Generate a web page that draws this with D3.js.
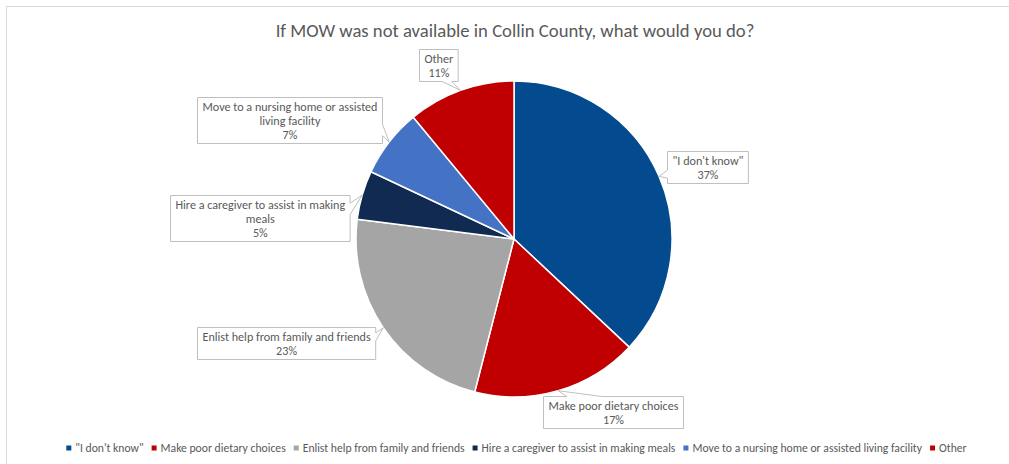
<!DOCTYPE html>
<html><head><meta charset="utf-8">
<script src="https://cdn.jsdelivr.net/npm/d3@7"></script>
<style>body{margin:0;background:#fff;} svg{display:block;}</style>
</head><body>
<svg id="chart" width="1009" height="464"></svg>
<script>
// ---- data ----
const categories = ['"I don\'t know"', "Make poor dietary choices", "Enlist help from family and friends", "Hire a caregiver to assist in making meals", "Move to a nursing home or assisted living facility", "Other"];
const values = [37, 17, 23, 5, 7, 11];
const colors = ["#034A8E", "#C00000", "#A5A5A5", "#112A52", "#4472C4", "#C00000"];
const titleText = "If MOW was not available in Collin County, what would you do?";

// ---- layout ----
const W = 1009, H = 464, cx = 514, cy = 239, R = 158;
const FONT = "Carlito, Calibri, Lato, 'Liberation Sans', sans-serif";
const TEXT = "#595959";
const calloutOffsets = [[48, -9], [55, 21], [-97, 15], [-102, 23], [-100, -22], [-22, -25]];

const svg = d3.select("#chart");
svg.append("rect").attr("x", 0).attr("y", 0).attr("width", W).attr("height", H).attr("fill", "#fff");
svg.append("rect").attr("x", 6.5).attr("y", 6.5).attr("width", W + 10).attr("height", H + 10)
  .attr("fill", "none").attr("stroke", "#d9d9d9").attr("stroke-width", 1);

// text measuring helper
const meas = svg.append("text").attr("font-family", FONT).attr("x", -1000).attr("y", -1000);
function tw(str, size) { meas.attr("font-size", size).text(str); return meas.node().getComputedTextLength(); }
function fitSize(str, target) { return 100 * target / tw(str, 100); }

// ---- title ----
const titleSize = fitSize(titleText, 479);
svg.append("text").attr("x", 515).attr("y", 30).attr("dy", "0.35em")
  .attr("text-anchor", "middle").attr("font-family", FONT).attr("font-size", titleSize)
  .attr("fill", TEXT).text(titleText);

// ---- pie ----
const pie = d3.pie().sort(null).value(d => d)(values);
const arc = d3.arc().innerRadius(0).outerRadius(R);
const tipArc = d3.arc().innerRadius(R).outerRadius(R);
const g = svg.append("g").attr("transform", `translate(${cx},${cy})`);
g.selectAll("path").data(pie).join("path")
  .attr("d", arc).attr("fill", (d, i) => colors[i])
  .attr("stroke", "#fff").attr("stroke-width", 1.5).attr("stroke-linejoin", "round");

// ---- callouts ----
const labSize = fitSize("Move to a nursing home or assisted", 175);
const wrapW = 180, lineH = 14;
function wrap(str) {
  const words = str.split(" "); const lines = []; let cur = "";
  words.forEach(w => {
    const t = cur ? cur + " " + w : w;
    if (tw(t, labSize) > wrapW && cur) { lines.push(cur); cur = w; } else cur = t;
  });
  if (cur) lines.push(cur);
  return lines;
}
function calloutPath(x0, y0, w, h, tx, ty) {
  const cxb = x0 + w / 2, cyb = y0 + h / 2;
  const dx = (tx - cxb) / w, dy = (ty - cyb) / h;
  const x1 = x0, x2 = x0 + w, y1 = y0, y2 = y0 + h;
  let pts;
  if (Math.abs(dx) > Math.abs(dy)) {
    const a = dy < 0 ? [2 / 12, 5 / 12] : [7 / 12, 10 / 12];
    const ya = y0 + h * a[0], yb = y0 + h * a[1];
    if (dx < 0) pts = [[x1, y1], [x2, y1], [x2, y2], [x1, y2], [x1, yb], [tx, ty], [x1, ya]];
    else pts = [[x1, y1], [x2, y1], [x2, ya], [tx, ty], [x2, yb], [x2, y2], [x1, y2]];
  } else {
    const a = dx < 0 ? [2 / 12, 5 / 12] : [7 / 12, 10 / 12];
    const xa = x0 + w * a[0], xb = x0 + w * a[1];
    if (dy < 0) pts = [[x1, y1], [xa, y1], [tx, ty], [xb, y1], [x2, y1], [x2, y2], [x1, y2]];
    else pts = [[x1, y1], [x2, y1], [x2, y2], [xb, y2], [tx, ty], [xa, y2], [x1, y2]];
  }
  return "M" + pts.map(p => p.map(v => v.toFixed(1)).join(",")).join("L") + "Z";
}
pie.forEach((d, i) => {
  const [tx0, ty0] = tipArc.centroid(d);
  const tx = cx + tx0, ty = cy + ty0;
  const lines = wrap(categories[i]).concat([values[i] + "%"]);
  const w = Math.max(...lines.map(l => tw(l, labSize))) + 10;
  const h = lines.length * lineH + 4;
  const bcx = tx + calloutOffsets[i][0], bcy = ty + calloutOffsets[i][1];
  const x0 = Math.round(bcx - w / 2) + 0.5, y0 = Math.round(bcy - h / 2) + 0.5;
  svg.append("path").attr("d", calloutPath(x0, y0, w, h, tx, ty))
    .attr("fill", "#fff").attr("stroke", "#bfbfbf").attr("stroke-width", 1);
  const t = svg.append("text").attr("font-family", FONT).attr("font-size", labSize)
    .attr("fill", TEXT).attr("text-anchor", "middle");
  lines.forEach((l, k) => {
    t.append("tspan").attr("x", x0 + w / 2).attr("y", y0 + 2 + lineH * k + lineH / 2).attr("dy", "0.35em").text(l);
  });
});

// ---- legend ----
const mk = 5, mkGap = 4, itemGap = 8;
const baseLeg = 11;
const legW = s => categories.reduce((acc, c) => acc + mk + mkGap + tw(c, s), 0) + itemGap * (categories.length - 1);
const legSize = baseLeg * 907 / legW(baseLeg);
const totalW = legW(legSize);
let lx = 516.5 - totalW / 2;
const ly = 448;
const leg = svg.append("g");
categories.forEach((c, i) => {
  leg.append("rect").attr("x", lx).attr("y", ly - mk / 2).attr("width", mk).attr("height", mk).attr("fill", colors[i]);
  leg.append("text").attr("x", lx + mk + mkGap).attr("y", ly).attr("dy", "0.35em")
    .attr("font-family", FONT).attr("font-size", legSize).attr("fill", TEXT).text(c);
  lx += mk + mkGap + tw(c, legSize) + itemGap;
});
meas.remove();
</script>
</body></html>
